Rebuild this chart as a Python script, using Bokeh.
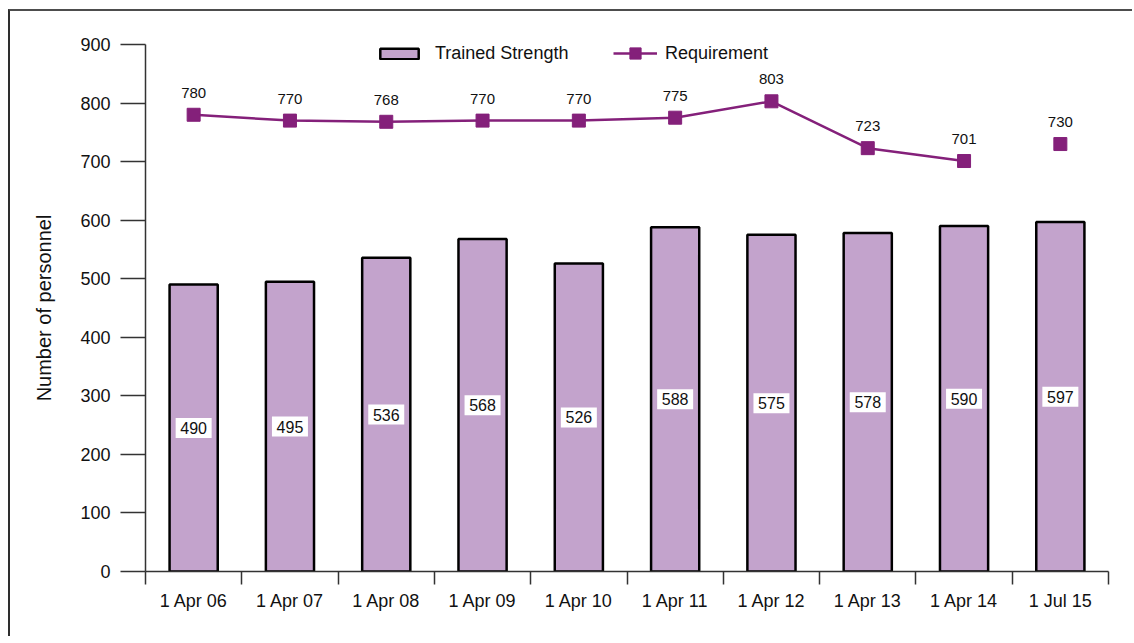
from bokeh.plotting import figure
from bokeh.models import ColumnDataSource, LabelSet, FixedTicker, Range1d, Legend, LegendItem
from bokeh.core.properties import value
from bokeh.embed import file_html
from bokeh.resources import INLINE

categories = ["1 Apr 06", "1 Apr 07", "1 Apr 08", "1 Apr 09", "1 Apr 10",
              "1 Apr 11", "1 Apr 12", "1 Apr 13", "1 Apr 14", "1 Jul 15"]
trained_strength = [490, 495, 536, 568, 526, 588, 575, 578, 590, 597]
requirement = [780, 770, 768, 770, 770, 775, 803, 723, 701, 730]
y_ticks = [0, 100, 200, 300, 400, 500, 600, 700, 800, 900]

n = len(categories)
xpos = [i + 0.5 for i in range(n)]

src = ColumnDataSource(dict(
    x=xpos,
    trained=trained_strength,
    half=[v / 2 for v in trained_strength],
    tlabel=[str(v) for v in trained_strength],
    req=requirement,
    rlabel=[str(v) for v in requirement],
))
# The requirement line is joined for the first nine points only
line_src = ColumnDataSource(dict(x=xpos[:-1], y=requirement[:-1]))

FONT = "Liberation Sans"
PURPLE = "#84207a"
BAR = "#c3a3cc"
TXT = "#111111"

p = figure(width=1124, height=627, x_range=Range1d(0, n), y_range=Range1d(0, 900),
           output_backend="svg", toolbar_location=None,
           min_border_left=135, min_border_top=33, min_border_right=26, min_border_bottom=67)
p.styles = {"margin-left": "8px", "margin-top": "9px",
            "border-top": "2px solid #4d4d4d", "border-left": "2px solid #2e2e2e"}
p.outline_line_color = None
p.xgrid.visible = False
p.ygrid.visible = False

bars = p.vbar(x="x", top="trained", width=0.5, bottom=0, source=src,
              fill_color=BAR, line_color="#000000", line_width=2.5)
ln = p.line("x", "y", source=line_src, line_color=PURPLE, line_width=2.5)
sc = p.scatter("x", "req", source=src, marker="square", size=13,
               fill_color=PURPLE, line_color=PURPLE)

# white boxes behind bar value labels
p.rect(x="x", y="half", width=36, height=20, width_units="screen", height_units="screen",
       source=src, fill_color="white", line_color=None)
# bar value labels
p.add_layout(LabelSet(x="x", y="half", text="tlabel", source=src,
                      text_align="center", text_baseline="middle",
                      text_font=value(FONT), text_font_size="16px", text_color=TXT))
# requirement labels
p.add_layout(LabelSet(x="x", y="req", text="rlabel", source=src, y_offset=22,
                      text_align="center", text_baseline="middle",
                      text_font=value(FONT), text_font_size="15px", text_color=TXT))

# axes
ax = p.xaxis[0]
ax.ticker = FixedTicker(ticks=xpos, minor_ticks=list(range(n + 1)))
ax.major_label_overrides = {xv: c for xv, c in zip(xpos, categories)}
ax.major_tick_out = 0
ax.major_tick_in = 0
ax.minor_tick_out = 13
ax.minor_tick_in = 0
ax.minor_tick_line_color = "#333333"
ax.minor_tick_line_width = 1.5
ax.axis_line_color = "#333333"
ax.axis_line_width = 1.5
ax.major_label_standoff = 6
ax.major_label_text_font = FONT
ax.major_label_text_font_size = "18px"
ax.major_label_text_color = TXT

ay = p.yaxis[0]
ay.ticker = FixedTicker(ticks=y_ticks, minor_ticks=[])
ay.major_tick_out = 25
ay.major_tick_in = 0
ay.major_tick_line_color = "#333333"
ay.major_tick_line_width = 1.5
ay.axis_line_color = "#333333"
ay.axis_line_width = 1.5
ay.major_label_standoff = 10
ay.major_label_text_font = FONT
ay.major_label_text_font_size = "18px"
ay.major_label_text_color = TXT
ay.axis_label = "Number of personnel"
ay.axis_label_text_font = FONT
ay.axis_label_text_font_size = "20px"
ay.axis_label_text_font_style = "normal"
ay.axis_label_text_color = TXT
ay.axis_label_standoff = 22

common = dict(orientation="horizontal", border_line_color=None, background_fill_alpha=0,
              padding=0, margin=0,
              label_text_font=FONT, label_text_font_size="18px", label_text_color=TXT)
legend1 = Legend(items=[LegendItem(label="Trained Strength", renderers=[bars])],
                 location=(230, 507), glyph_width=48, glyph_height=13, label_height=16,
                 label_standoff=12, **common)
legend2 = Legend(items=[LegendItem(label="Requirement", renderers=[ln, sc])],
                 location=(468, 504), glyph_width=44, glyph_height=28, label_height=16,
                 label_standoff=8, **common)
p.add_layout(legend1)
p.add_layout(legend2)

open("out.html", "w").write(file_html(p, INLINE))
